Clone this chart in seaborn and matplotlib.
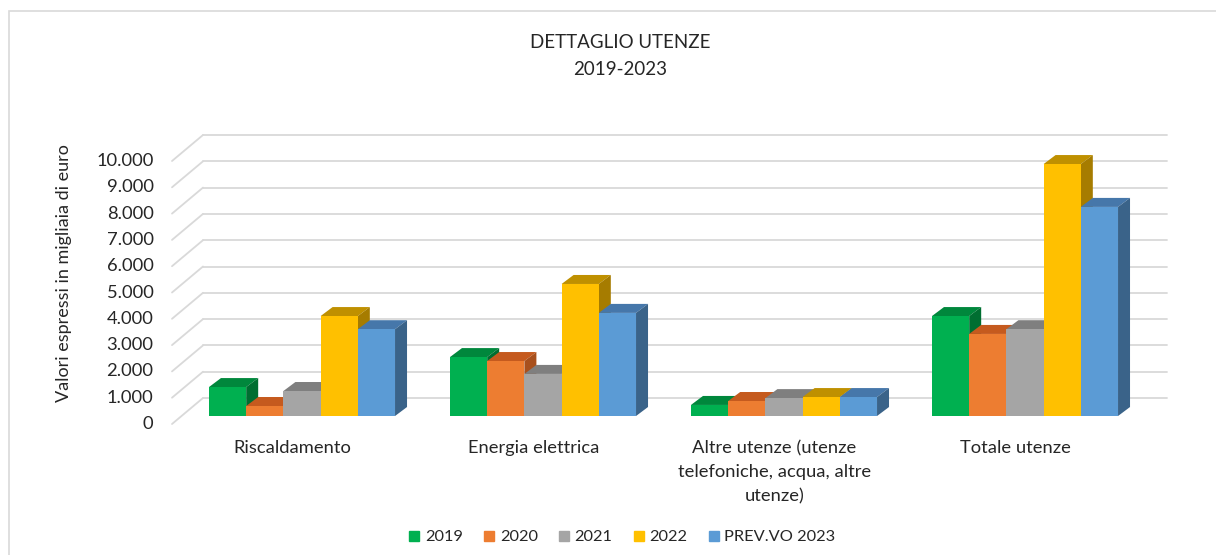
import numpy as np
import pandas as pd
import matplotlib
matplotlib.use("Agg")
import matplotlib.pyplot as plt
import matplotlib.transforms as mtransforms
from matplotlib.patches import Polygon, Rectangle
from matplotlib.lines import Line2D
import seaborn as sns

# ---------------- data ----------------
categories = ["Riscaldamento", "Energia elettrica",
              "Altre utenze (utenze\ntelefoniche, acqua, altre\nutenze)", "Totale utenze"]
series_names = ["2019", "2020", "2021", "2022", "PREV.VO 2023"]
v2019 = [1100, 2240, 420, 3800]
v2020 = [380, 2090, 570, 3120]
v2021 = [950, 1600, 680, 3300]
v2022 = [3800, 5020, 720, 9580]
v2023 = [3300, 3920, 720, 7950]
y_ticks = [0, 1000, 2000, 3000, 4000, 5000, 6000, 7000, 8000, 9000, 10000]
y_tick_labels = ["0", "1.000", "2.000", "3.000", "4.000", "5.000",
                 "6.000", "7.000", "8.000", "9.000", "10.000"]
title_line1 = "DETTAGLIO UTENZE"
title_line2 = "2019-2023"
y_label = "Valori espressi in migliaia di euro"

front_colors = ["#00B050", "#ED7D31", "#A5A5A5", "#FFC000", "#5B9BD5"]
top_colors = ["#00873C", "#C55A1E", "#7F7F7F", "#BF9000", "#4677AA"]
side_colors = ["#006E31", "#A8501D", "#6E6E6E", "#A67C00", "#3A6389"]

series_values = [v2019, v2020, v2021, v2022, v2023]
df = pd.DataFrame({
    "categoria": categories * len(series_names),
    "anno": [s for s in series_names for _ in categories],
    "valore": [v for vals in series_values for v in vals],
})

# ---------------- figure ----------------
sns.set_theme(style="white")
plt.rcParams["font.family"] = ["Lato", "DejaVu Sans"]

W, H = 1216, 555
fig = plt.figure(figsize=(W / 100, H / 100), dpi=100)
fig.patch.set_facecolor("white")

# axes = bar plane; x -0.5..3.5 -> px 181.5..1145.5 ; y 0..10000 -> px 416..153
ax_left, ax_right = 181.5, 1145.5
ax_bot, ax_top = 416, 153
ax = fig.add_axes([ax_left / W, (H - ax_bot) / H, (ax_right - ax_left) / W, (ax_bot - ax_top) / H])
ax.set_facecolor("none")

sns.barplot(data=df, x="categoria", y="valore", hue="anno", order=categories,
            hue_order=series_names, palette=dict(zip(series_names, front_colors)),
            saturation=1, width=0.772, legend=False, ax=ax, linewidth=0)

ax.set_xlim(-0.5, 3.5)
ax.set_ylim(0, 10000)
ax.set_xlabel("")
ax.set_ylabel("")
ax.set_xticks([])
ax.set_yticks([])
for s in ax.spines.values():
    s.set_visible(False)

fig.canvas.draw()

# depth offsets (pixels)
back_dx, back_dy = 21.5, 18
front_dx, front_dy = -9.5, -8
bar_dx, bar_dy = 12, 9

trans_back = ax.transData + mtransforms.Affine2D().translate(back_dx, back_dy)
trans_front = ax.transData + mtransforms.Affine2D().translate(front_dx, front_dy)
grid_col = "#d9d9d9"
ident = mtransforms.IdentityTransform()

for v in y_ticks:
    ax.plot([-0.5, 3.5], [v, v], transform=trans_back, color=grid_col, lw=1.3,
            clip_on=False, zorder=1)
    p0 = trans_front.transform((-0.5, v))
    p1 = trans_back.transform((-0.5, v))
    ax.add_line(Line2D([p0[0], p1[0]], [p0[1], p1[1]], transform=ident,
                       color=grid_col, lw=1.3, clip_on=False, zorder=1))

txt_col = "#262626"

# y tick labels (front plane)
trans_lab = ax.transData + mtransforms.Affine2D().translate(-28, -8)
for v, lab in zip(y_ticks, y_tick_labels):
    ax.text(-0.5, v, lab, transform=trans_lab, ha="right", va="center",
            fontsize=13.2, color=txt_col)

# category labels (front plane)
trans_cat = ax.transData + mtransforms.Affine2D().translate(-9.5, -24)
for i, c in enumerate(categories):
    ax.text(i, 0, c, transform=trans_cat, ha="center", va="top", fontsize=13.2,
            color=txt_col, linespacing=1.62)

# 3D faces
for j, cont in enumerate(ax.containers):
    for patch in cont.patches:
        x0 = patch.get_x()
        w = patch.get_width()
        h = patch.get_height()
        (px0, py0) = ax.transData.transform((x0, 0))
        (px1, py1) = ax.transData.transform((x0 + w, h))
        patch.set_zorder(3 + j * 0.1 + 0.05)
        patch.set_clip_on(False)
        top = Polygon([(px0, py1), (px1, py1), (px1 + bar_dx, py1 + bar_dy), (px0 + bar_dx, py1 + bar_dy)],
                      closed=True, transform=ident, facecolor=top_colors[j], edgecolor="none",
                      zorder=3 + j * 0.1, clip_on=False)
        side = Polygon([(px1, py0), (px1, py1), (px1 + bar_dx, py1 + bar_dy), (px1 + bar_dx, py0 + bar_dy)],
                       closed=True, transform=ident, facecolor=side_colors[j], edgecolor="none",
                       zorder=3 + j * 0.1, clip_on=False)
        ax.add_patch(top)
        ax.add_patch(side)

# title and axis label
fig.text(620 / W, 1 - 42 / H, title_line1, ha="center", va="center", fontsize=13.5, color=txt_col)
fig.text(620 / W, 1 - 69 / H, title_line2, ha="center", va="center", fontsize=13.5, color=txt_col)
fig.text(64 / W, 1 - 273 / H, y_label, rotation=90, ha="center", va="center", fontsize=13, color=txt_col)

# legend
handles = [Line2D([], [], marker="s", linestyle="none", markersize=7.5,
                  markerfacecolor=c, markeredgecolor=c) for c in front_colors]
fig.legend(handles, series_names, loc="center", bbox_to_anchor=(622 / W, 1 - 537 / H),
           ncol=5, frameon=False, fontsize=11.8, handlelength=0.7, handletextpad=0.3,
           columnspacing=1.25, labelcolor=txt_col)

# outer frame
fig.add_artist(Rectangle((9 / W, -0.1), 1.2, 1 - 11 / H + 0.1, transform=fig.transFigure,
                         fill=False, edgecolor="#d9d9d9", lw=1.2))

fig.savefig("out.png", dpi=100, facecolor="white")
